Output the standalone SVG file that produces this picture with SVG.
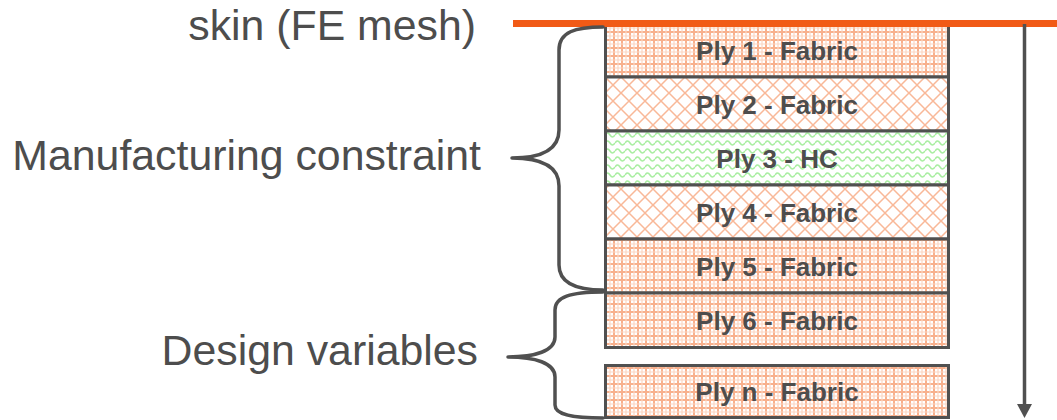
<svg xmlns="http://www.w3.org/2000/svg" width="1057" height="420" viewBox="0 0 1057 420">
<style>
.lbl{font-family:"Liberation Sans",Arial,sans-serif;font-size:42.8px;fill:#4d4d4d;text-anchor:end}
.ply{font-family:"Liberation Sans",Arial,sans-serif;font-size:26px;font-weight:bold;fill:#4d4d4d;text-anchor:middle}
.box{stroke:#505050;stroke-width:3}
.brace{fill:none;stroke:#505050;stroke-width:3.5;stroke-linecap:round;stroke-linejoin:round}
</style>
<defs>
<pattern id="grid" width="8" height="8" patternUnits="userSpaceOnUse" x="605" y="23">
<rect width="8" height="8" fill="#fff"/>
<path d="M1 0V8M0 1H8" stroke="#f8b08d" stroke-width="2"/>
<path d="M5 0V8M0 5H8" stroke="#fcd6c3" stroke-width="1.2"/>
</pattern>
<pattern id="cross" width="16" height="16" patternUnits="userSpaceOnUse" x="605" y="77">
<rect width="16" height="16" fill="#fff"/>
<path d="M0 0L16 16M16 0L0 16" stroke="#f9b898" stroke-width="1.5"/>
</pattern>
<pattern id="wave" width="10" height="8" patternUnits="userSpaceOnUse" x="605" y="131">
<rect width="10" height="8" fill="#fff"/>
<path d="M0 4Q2.5 0 5 4T10 4" fill="none" stroke="#a8eea0" stroke-width="1.5"/>
</pattern>
</defs>
<g id="skin-label"><text class="lbl" x="476" y="40">skin (FE mesh)</text></g>
<g id="manufacturing-label"><text class="lbl" x="481" y="170">Manufacturing constraint</text></g>
<g id="design-label"><text class="lbl" x="478" y="365">Design variables</text></g>
<g id="ply1"><rect class="box" x="605.5" y="23" width="343" height="54" fill="url(#grid)"/><text class="ply" x="777" y="60">Ply 1 - Fabric</text></g>
<g id="ply2"><rect class="box" x="605.5" y="77" width="343" height="54" fill="url(#cross)"/><text class="ply" x="777" y="114">Ply 2 - Fabric</text></g>
<g id="ply3"><rect class="box" x="605.5" y="131" width="343" height="54" fill="url(#wave)"/><text class="ply" x="777" y="168">Ply 3 - HC</text></g>
<g id="ply4"><rect class="box" x="605.5" y="185" width="343" height="54" fill="url(#cross)"/><text class="ply" x="777" y="222">Ply 4 - Fabric</text></g>
<g id="ply5"><rect class="box" x="605.5" y="239" width="343" height="54" fill="url(#grid)"/><text class="ply" x="777" y="276">Ply 5 - Fabric</text></g>
<g id="ply6"><rect class="box" x="605.5" y="293" width="343" height="54.5" fill="url(#grid)"/><text class="ply" x="777" y="330">Ply 6 - Fabric</text></g>
<g id="plyn"><rect class="box" x="605.5" y="365.5" width="343" height="52" fill="url(#grid)"/><text class="ply" x="777" y="401">Ply n - Fabric</text></g>
<g id="connectors">
<line x1="513" y1="23.5" x2="1057" y2="23.5" stroke="#f15a16" stroke-width="7"/>
<line x1="1024.5" y1="24" x2="1024.5" y2="405" stroke="#505050" stroke-width="3.5"/>
<polygon points="1017,404 1032,404 1024.5,418" fill="#505050"/>
<path class="brace" d="M603 27C575 27 559 32 559 50V130C559 150 540 158 512 158C540 158 559 166 559 186V265C559 283 575 290 603 290"/>
<path class="brace" d="M603 292C570 292 555 297 555 310V337C555 351 535 357 508 357C535 357 555 363 555 377V405C555 414 570 418 603 418"/>
</g>
</svg>
